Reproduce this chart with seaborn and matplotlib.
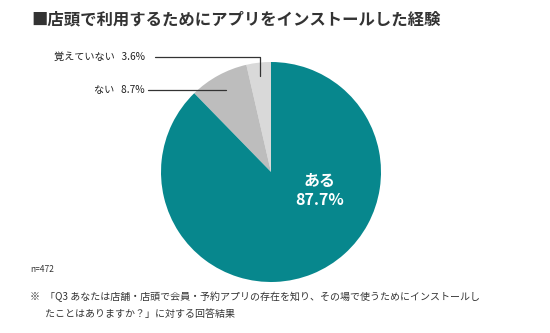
import matplotlib
matplotlib.use("Agg")
import matplotlib.pyplot as plt
import seaborn as sns
import numpy as np

sns.set_theme(style="white")
plt.rcParams['font.family'] = ['Noto Sans CJK JP', 'DejaVu Sans']

categories = ["覚えていない", "ない", "ある"]
values = [3.6, 8.7, 87.7]
colors = ["#d9d9d9", "#bdbdbd", "#07878d"]
title = "■店頭で利用するためにアプリをインストールした経験"
n_text = "n=472"
note_mark = "※"
note_lines = ["「Q3 あなたは店舗・店頭で会員・予約アプリの存在を知り、その場で使うためにインストールし",
              "たことはありますか？」に対する回答結果"]

W, H = 550, 333
fig = plt.figure(figsize=(W / 100, H / 100), dpi=100)
fig.patch.set_facecolor("white")

cx, cy, r = 271, 172, 110
ax = fig.add_axes([(cx - r) / W, (H - cy - r) / H, 2 * r / W, 2 * r / H])
wedges, _ = ax.pie(values, colors=colors, startangle=90, counterclock=True,
                   radius=1.0, wedgeprops=dict(linewidth=0))
ax.set_xlim(-1, 1)
ax.set_ylim(-1, 1)
ax.set_aspect("equal")
ax.axis("off")

# Inside label for the main slice
ax.text(0.44, -0.17, f"{categories[2]}\n{values[2]}%", ha="center", va="center",
        color="white", fontsize=11.5, fontweight="bold", linespacing=1.2)

# Callout labels
def to_fig(px, py):
    return px / W, 1 - py / H

cum = np.cumsum([0] + values)
mid_angles = [90 + (cum[i] + values[i] / 2) * 3.6 for i in range(len(values))]

# 覚えていない
a = np.deg2rad(mid_angles[0])
p0 = (0.88 * np.cos(a), 0.88 * np.sin(a))
corner_y = (cy - 57) / r
ax.plot([p0[0], p0[0], (155 - cx) / r], [p0[1], corner_y, corner_y],
        color="#333333", lw=0.9, clip_on=False)
fig.text(*to_fig(145, 57), f"{categories[0]}   {values[0]}%", ha="right", va="center",
         fontsize=7.3, color="#222222")

# ない
a = np.deg2rad(mid_angles[1])
p1 = (0.85 * np.cos(a), 0.85 * np.sin(a))
ax.plot([p1[0], (148 - cx) / r], [p1[1], p1[1]],
        color="#333333", lw=0.9, clip_on=False)
fig.text(*to_fig(145, 90), f"{categories[1]}   {values[1]}%", ha="right", va="center",
         fontsize=7.3, color="#222222")

# Title
fig.text(*to_fig(31, 20), title, ha="left", va="center", fontsize=11.8,
         fontweight="bold", color="#333333")

# n and note
fig.text(*to_fig(30, 270), n_text, ha="left", va="center", fontsize=6, color="#333333")
fig.text(*to_fig(30, 297), note_mark, ha="left", va="center", fontsize=7.2, color="#333333")
fig.text(*to_fig(45, 297), note_lines[0], ha="left", va="center", fontsize=7.2, color="#333333")
fig.text(*to_fig(45, 314), note_lines[1], ha="left", va="center", fontsize=7.2, color="#333333")

fig.savefig("out.png", dpi=100, facecolor="white")
